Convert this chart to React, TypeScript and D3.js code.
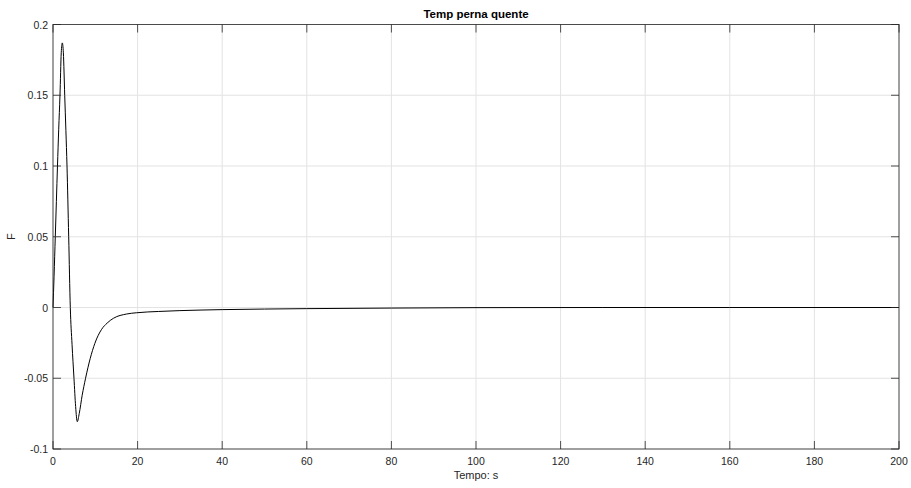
import React from "react";
import * as d3 from "d3";

const title = "Temp perna quente";
const xLabel = "Tempo: s";
const yLabel = "F";
const xTicks = [0, 20, 40, 60, 80, 100, 120, 140, 160, 180, 200];
const yTicks = [-0.1, -0.05, 0, 0.05, 0.1, 0.15, 0.2];
const yTickLabels = ["-0.1", "-0.05", "0", "0.05", "0.1", "0.15", "0.2"];

const timeS = [
  0, 0.25, 0.54, 0.8, 1.06, 1.35, 1.65, 1.95, 2.2, 2.45, 2.77, 3.05, 3.31, 3.71, 4.09,
  4.5, 4.96, 5.35, 5.74, 6.2, 6.9, 7.7, 8.8, 9.9, 11.5, 12.8, 14.3, 17.4, 19.8, 25, 30,
  35, 40, 50, 60, 80, 100, 130, 160, 200,
];
const valueF = [
  0, 0.022, 0.05, 0.075, 0.1, 0.126, 0.15, 0.18, 0.187, 0.18, 0.15, 0.125, 0.1, 0.05, 0,
  -0.026, -0.05, -0.07, -0.0807, -0.075, -0.062, -0.05, -0.036, -0.0253, -0.0154, -0.011,
  -0.0076, -0.0046, -0.0037, -0.0028, -0.0022, -0.0018, -0.0015, -0.0011, -0.0008,
  -0.0004, -0.0001, 0, 0, 0,
];

const W = 911;
const H = 488;
const L = 53;
const R = 899;
const T = 24.5;
const B = 449;

export default function App() {
  const x = d3.scaleLinear().domain([0, 200]).range([L, R]);
  const y = d3.scaleLinear().domain([-0.1, 0.2]).range([B, T]);
  const pts = timeS.map((t, i) => [t, valueF[i]] as [number, number]);
  const line = d3
    .line<[number, number]>()
    .x((d) => x(d[0]))
    .y((d) => y(d[1]))
    .curve(d3.curveMonotoneX);
  const font = "'Liberation Sans', Arial, Helvetica, sans-serif";
  const axisCol = "#262626";
  const gridCol = "#e3e3e3";
  const tickLen = 8;
  return (
    <svg
      width={W}
      height={H}
      style={{ position: "absolute", left: 0, top: 0, background: "#fff" }}
      fontFamily={font}
    >
      <rect x={0} y={0} width={W} height={H} fill="#fff" />
      {xTicks.map((t) => (
        <line key={"gx" + t} x1={x(t)} x2={x(t)} y1={T} y2={B} stroke={gridCol} strokeWidth={1} />
      ))}
      {yTicks.map((t) => (
        <line key={"gy" + t} x1={L} x2={R} y1={y(t)} y2={y(t)} stroke={gridCol} strokeWidth={1} />
      ))}
      <path d={line(pts) || ""} fill="none" stroke="#000" strokeWidth={1} />
      <rect x={L} y={T} width={R - L} height={B - T} fill="none" stroke={axisCol} strokeWidth={0.8} />
      {xTicks.map((t) => (
        <g key={"tx" + t}>
          <line x1={x(t)} x2={x(t)} y1={B} y2={B - tickLen} stroke={axisCol} strokeWidth={0.8} />
          <line x1={x(t)} x2={x(t)} y1={T} y2={T + tickLen} stroke={axisCol} strokeWidth={0.8} />
          <text x={x(t)} y={B + 16} textAnchor="middle" fontSize={10.5} fill="#262626">
            {t}
          </text>
        </g>
      ))}
      {yTicks.map((t, i) => (
        <g key={"ty" + t}>
          <line x1={L} x2={L + tickLen} y1={y(t)} y2={y(t)} stroke={axisCol} strokeWidth={0.8} />
          <line x1={R} x2={R - tickLen} y1={y(t)} y2={y(t)} stroke={axisCol} strokeWidth={0.8} />
          <text x={L - 5} y={y(t) + 4} textAnchor="end" fontSize={10.5} fill="#262626">
            {yTickLabels[i]}
          </text>
        </g>
      ))}
      <text x={(L + R) / 2} y={479} textAnchor="middle" fontSize={11} fill="#262626">
        {xLabel}
      </text>
      <text
        transform={`translate(15,${(T + B) / 2}) rotate(-90)`}
        textAnchor="middle"
        fontSize={11}
        fill="#262626"
      >
        {yLabel}
      </text>
      <text x={(L + R) / 2} y={18} textAnchor="middle" fontSize={11.5} fontWeight="bold" fill="#000">
        {title}
      </text>
    </svg>
  );
}
